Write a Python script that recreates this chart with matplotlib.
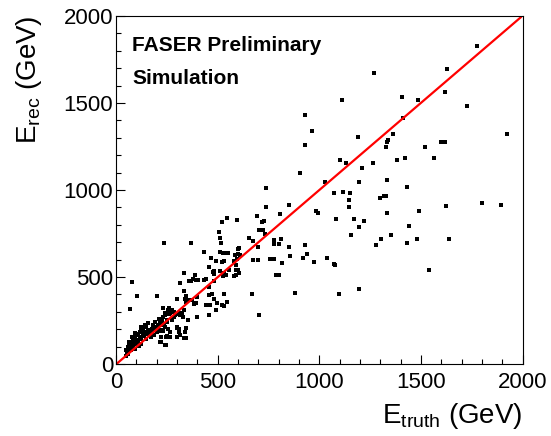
import matplotlib
matplotlib.use("Agg")
import matplotlib.pyplot as plt
from matplotlib.ticker import MultipleLocator
import numpy as np

plt.rcParams['font.family'] = ['Liberation Sans', 'DejaVu Sans']
plt.rcParams['mathtext.fontset'] = 'custom'
plt.rcParams['mathtext.rm'] = 'Liberation Sans'
plt.rcParams['mathtext.it'] = 'Liberation Sans'

#### DATA (GeV) ####

# dense low-energy cluster
low_truth = [50, 58, 67, 62, 75, 83, 78, 92, 100, 92, 108, 117, 125, 122, 133, 142, 150, 158, 155, 167,
             138, 125, 108, 100, 83, 67, 53, 175, 183, 192, 208, 217, 225, 233, 242, 200, 188, 172, 150, 125,
             112, 92, 75, 58, 50, 192, 208, 225, 250, 258, 267, 283, 292, 308, 317, 325, 333, 258, 267, 62,
             83, 105, 117, 133, 145, 158, 178, 195, 213, 238, 275, 222, 245, 300, 317, 338, 218, 243, 333, 302,
             311, 257, 244, 215, 232, 260, 241, 267, 279, 293, 218, 232]
low_rec = [78, 97, 112, 126, 116, 136, 155, 145, 165, 178, 174, 184, 194, 213, 203, 223, 213, 233, 194, 184,
           159, 145, 126, 116, 97, 81, 68, 203, 223, 242, 223, 236, 252, 271, 291, 184, 165, 155, 145, 116,
           103, 87, 78, 58, 48, 203, 194, 194, 242, 203, 184, 271, 281, 291, 281, 295, 310, 310, 291, 101,
           120, 140, 155, 174, 184, 174, 178, 213, 256, 223, 252, 155, 112, 155, 165, 184, 125, 109, 150, 205,
           186, 153, 153, 192, 192, 288, 280, 313, 297, 288, 249, 230]

# medium energies
mid_truth = [738, 693, 727, 720, 808, 520, 548, 597, 508, 512, 517, 702, 713, 725, 655, 672, 733, 775, 813, 775,
             800, 235, 367, 433, 512, 525, 542, 550, 598, 600, 608, 700, 492, 520, 533, 675, 700, 755, 775, 817,
             588, 597, 592, 600, 558, 542, 533, 605, 580, 588, 512, 525, 483, 335, 358, 380, 395, 403, 442, 480,
             483, 78, 105, 70, 200, 335, 345, 340, 353, 342, 375, 382, 395, 400, 300, 330, 400, 342, 308, 263,
             275, 283, 233, 250, 225, 242, 300, 308, 342, 250, 267, 222, 458, 483, 442, 463, 495, 522, 533, 667,
             705, 353, 458, 492, 533, 785, 804, 459, 471, 548, 459, 476, 433, 469, 581, 586, 606, 389, 370, 314]
mid_rec = [901, 853, 824, 814, 862, 818, 839, 829, 756, 727, 698, 769, 769, 769, 723, 707, 746, 711, 721, 688,
           688, 698, 698, 643, 643, 640, 640, 640, 659, 630, 624, 674, 591, 589, 591, 597, 597, 605, 601, 578,
           568, 601, 539, 539, 543, 514, 523, 523, 508, 514, 533, 508, 519, 523, 475, 488, 485, 485, 488, 533,
           475, 469, 393, 314, 391, 417, 391, 376, 368, 359, 368, 343, 353, 384, 372, 271, 271, 209, 184, 320,
           310, 300, 320, 252, 223, 213, 213, 203, 151, 159, 155, 126, 397, 372, 339, 339, 349, 339, 403, 401,
           281, 252, 281, 310, 333, 514, 514, 441, 403, 359, 556, 527, 485, 608, 593, 629, 669, 512, 479, 466]

# high energies
high_truth = [1777, 1271, 1629, 1619, 1112, 1406, 1487, 1726, 930, 962, 930, 1191, 1409, 1360, 1340, 1333, 1330,
              1522, 1599, 1619, 1923, 904, 1102, 1130, 1209, 1266, 1381, 1419, 1563, 1196, 1335, 1432, 1028, 1074,
              1115, 1152, 1148, 1148, 1299, 1318, 1330, 1624, 1801, 1893, 851, 736, 982, 995, 1084, 1172, 1219,
              1195, 1335, 1439, 1490, 1158, 1350, 1302, 1279, 1429, 1481, 1639, 851, 930, 856, 920, 940, 972,
              1038, 1071, 1079, 1537, 878, 1097, 1195]
high_rec = [1825, 1674, 1695, 1565, 1517, 1533, 1517, 1485, 1431, 1339, 1257, 1306, 1412, 1322, 1287, 1274, 1245,
            1245, 1274, 1274, 1322, 1099, 1171, 1153, 1128, 1153, 1171, 1186, 1186, 1046, 1057, 1019, 1046, 981,
            990, 981, 943, 904, 954, 966, 966, 906, 927, 916, 916, 1014, 879, 866, 833, 833, 824,
            786, 866, 795, 877, 741, 741, 720, 682, 694, 720, 720, 671, 682, 621, 611, 634, 584,
            611, 573, 567, 542, 410, 401, 429]

# red reference line
line_truth = [8, 1990]
line_rec = [6, 1992]

e_truth = np.array(low_truth + mid_truth + high_truth)
e_rec = np.array(low_rec + mid_rec + high_rec)

#### PLOT ####

fig = plt.figure(figsize=(5.51, 4.36), dpi=100)
ax = fig.add_axes([0.2105, 0.1651, 0.7381, 0.7982])

ax.plot(e_truth, e_rec, "s", color="black", markersize=2.3, markeredgewidth=0)
ax.plot(line_truth, line_rec, color="red", linewidth=1.6)

ax.set_xlim(0, 2000)
ax.set_ylim(0, 2000)
ax.xaxis.set_major_locator(MultipleLocator(500))
ax.xaxis.set_minor_locator(MultipleLocator(100))
ax.yaxis.set_major_locator(MultipleLocator(500))
ax.yaxis.set_minor_locator(MultipleLocator(100))
ax.tick_params(which="both", direction="in", top=False, right=False, width=0.8, labelsize=16)
ax.tick_params(which="major", length=6.5)
ax.tick_params(which="minor", length=3.4)
ax.tick_params(axis="x", pad=6)
ax.tick_params(axis="y", pad=2)
for sp in ax.spines.values():
    sp.set_linewidth(0.8)

ax.text(0.04, 0.9, "FASER Preliminary", transform=ax.transAxes, fontsize=15, fontweight="bold")
ax.text(0.04, 0.805, "Simulation", transform=ax.transAxes, fontsize=15, fontweight="bold")

fig.text(0.9486, 13 / 436, r"$\mathrm{E_{truth}}$ (GeV)", ha="right", va="baseline", fontsize=20)
fig.text(29 / 551, 1 - 15 / 436, r"$\mathrm{E_{rec}}$ (GeV)", ha="center", va="top", rotation=90, fontsize=20)

fig.savefig("out.png", dpi=100)
